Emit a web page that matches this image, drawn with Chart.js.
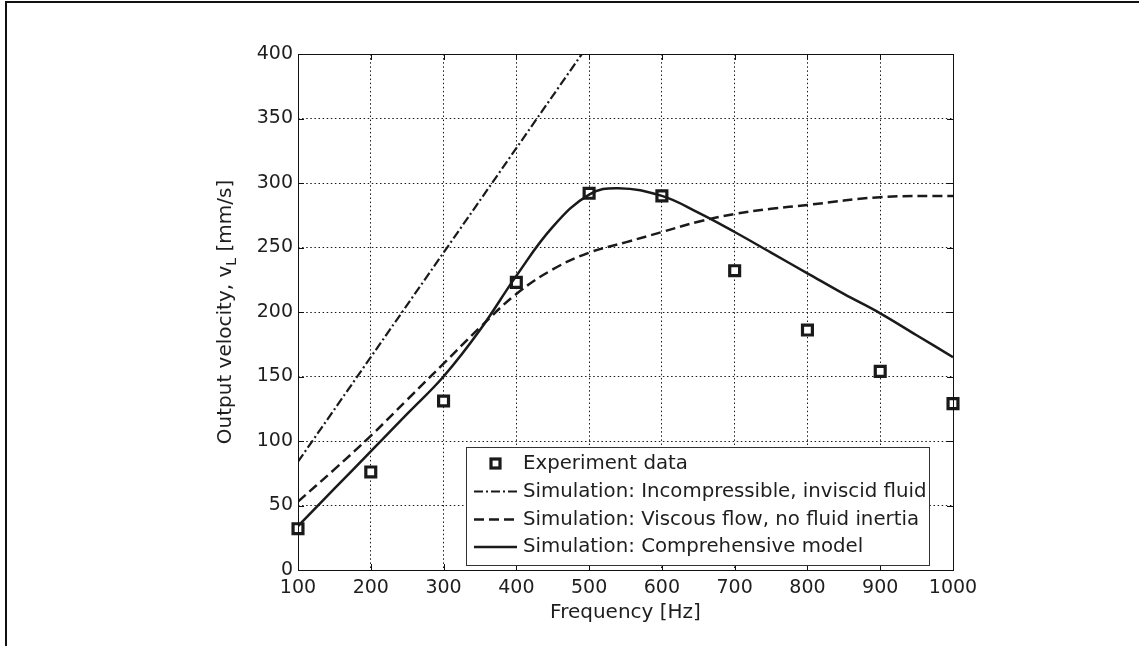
<!DOCTYPE html>
<html lang="en">
<head>
<meta charset="UTF-8" />
<title>Output velocity vs frequency</title>
<script src="https://cdn.jsdelivr.net/npm/chart.js@4.4.1/dist/chart.umd.min.js"></script>
<style>
    html, body { margin: 0; padding: 0; background: #fff; }
    #chart { display: block; }
</style>
</head>
<body>
<canvas id="chart" width="1139" height="646"></canvas>
<script>
    // values
    const expFreq = [100, 200, 300, 400, 500, 600, 700, 800, 900, 1000];
    const expVel  = [32, 76, 131, 223, 292, 290, 232, 186, 154, 129];

    const inviscidFreq = [100, 200, 300, 400, 490];
    const inviscidVel  = [84, 165, 246, 327, 400];

    const viscousFreq = [100, 150, 200, 250, 300, 350, 400, 450, 500, 550, 600, 650, 700, 750, 800, 900, 1000];
    const viscousVel  = [53, 78, 104, 132, 160, 188, 214, 233, 246, 254, 262, 270, 276, 280, 283, 289, 290];

    const fullFreq = [100, 150, 200, 250, 300, 350, 400, 450, 500, 540, 600, 650, 700, 750, 800, 850, 900, 950, 1000];
    const fullVel  = [34, 63, 92, 121, 150, 186, 228, 266, 291, 296, 290, 277, 262, 246, 230, 214, 199, 182, 165];

    const xTicks = [100, 200, 300, 400, 500, 600, 700, 800, 900, 1000];
    const yTicks = [0, 50, 100, 150, 200, 250, 300, 350, 400];

    const FONT = '"DejaVu Sans", "Liberation Sans", sans-serif';
    const INK = '#1e1e1e';

    const pts = (xs, ys) => xs.map((x, i) => ({ x, y: ys[i] }));

    Chart.defaults.font.family = FONT;
    Chart.defaults.font.size = 19;
    Chart.defaults.color = INK;

    // frame, axes box, inner ticks, y title and legend
    const paperPlugin = {
        id: 'paper',
        beforeDraw(chart) {
            const ctx = chart.ctx;
            ctx.save();
            ctx.fillStyle = '#fff';
            ctx.fillRect(0, 0, chart.width, chart.height);
            ctx.strokeStyle = '#111';
            ctx.lineWidth = 2;
            ctx.beginPath();
            ctx.moveTo(6, chart.height);
            ctx.lineTo(6, 2);
            ctx.lineTo(chart.width, 2);
            ctx.stroke();
            ctx.restore();
        },
        afterDraw(chart) {
            const ctx = chart.ctx;
            const a = chart.chartArea;
            const xs = chart.scales.x, ys = chart.scales.y;
            ctx.save();

            // axes box
            ctx.strokeStyle = '#111';
            ctx.lineWidth = 1;
            ctx.setLineDash([]);
            ctx.strokeRect(a.left + 0.5, a.top + 0.5, a.right - a.left, a.bottom - a.top);

            // inner ticks on all four sides
            ctx.beginPath();
            xTicks.forEach(v => {
                const px = Math.round(xs.getPixelForValue(v)) + 0.5;
                ctx.moveTo(px, a.bottom); ctx.lineTo(px, a.bottom - 6);
                ctx.moveTo(px, a.top); ctx.lineTo(px, a.top + 6);
            });
            yTicks.forEach(v => {
                const py = Math.round(ys.getPixelForValue(v)) + 0.5;
                ctx.moveTo(a.left, py); ctx.lineTo(a.left + 6, py);
                ctx.moveTo(a.right, py); ctx.lineTo(a.right - 6, py);
            });
            ctx.stroke();

            // y axis title with subscript
            ctx.translate(226, (a.top + a.bottom) / 2);
            ctx.rotate(-Math.PI / 2);
            ctx.fillStyle = INK;
            ctx.textBaseline = 'middle';
            const big = '20px ' + FONT, small = '14px ' + FONT;
            const parts = [['Output velocity, v', big, 0], ['L', small, 6], [' [mm/s]', big, 0]];
            let total = 0;
            parts.forEach(p => { ctx.font = p[1]; total += ctx.measureText(p[0]).width; });
            let tx = -total / 2;
            parts.forEach(p => {
                ctx.font = p[1];
                ctx.fillText(p[0], tx, p[2]);
                tx += ctx.measureText(p[0]).width;
            });
            ctx.setTransform(1, 0, 0, 1, 0, 0);

            // legend
            const box = { left: 466, top: 447, right: 929, bottom: 565 };
            ctx.fillStyle = '#fff';
            ctx.fillRect(box.left, box.top, box.right - box.left, box.bottom - box.top);
            ctx.strokeStyle = '#333';
            ctx.lineWidth = 1;
            ctx.strokeRect(box.left + 0.5, box.top + 0.5, box.right - box.left, box.bottom - box.top);

            const order = [3, 0, 1, 2];
            const rows = [463.5, 491.5, 519.5, 547];
            ctx.font = '19.75px ' + FONT;
            ctx.textBaseline = 'middle';
            order.forEach((di, r) => {
                const ds = chart.data.datasets[di];
                const y = rows[r];
                if (ds.showLine === false) {
                    ctx.setLineDash([]);
                    ctx.lineWidth = ds.borderWidth;
                    ctx.strokeStyle = ds.borderColor;
                    ctx.fillStyle = '#fff';
                    ctx.fillRect(491, y - 4.5, 9, 9);
                    ctx.strokeRect(491, y - 4.5, 9, 9);
                } else {
                    ctx.setLineDash(ds.borderDash || []);
                    ctx.lineWidth = ds.borderWidth;
                    ctx.strokeStyle = ds.borderColor;
                    ctx.beginPath();
                    ctx.moveTo(474, y);
                    ctx.lineTo(517, y);
                    ctx.stroke();
                }
                ctx.setLineDash([]);
                ctx.fillStyle = INK;
                ctx.fillText(ds.label, 523, y);
            });
            ctx.restore();
        }
    };

    const gridOpts = {
        color: '#1a1a1a',
        lineWidth: 1,
        drawTicks: false
    };

    new Chart(document.getElementById('chart').getContext('2d'), {
        type: 'line',
        data: {
            datasets: [
                { label: 'Simulation: Incompressible, inviscid fluid', data: pts(inviscidFreq, inviscidVel),
                  borderColor: '#1a1a1a', borderWidth: 2.2, borderDash: [9, 3, 2, 3], pointRadius: 0, fill: false, tension: 0 },
                { label: 'Simulation: Viscous flow, no fluid inertia', data: pts(viscousFreq, viscousVel),
                  borderColor: '#1a1a1a', borderWidth: 2.5, borderDash: [10, 5], pointRadius: 0, fill: false, tension: 0.4 },
                { label: 'Simulation: Comprehensive model', data: pts(fullFreq, fullVel),
                  borderColor: '#1a1a1a', borderWidth: 2.5, pointRadius: 0, fill: false, tension: 0.4 },
                { label: 'Experiment data', data: pts(expFreq, expVel), showLine: false,
                  pointStyle: 'rect', pointRadius: 7, borderWidth: 3.2, borderColor: '#1a1a1a',
                  backgroundColor: '#fff', clip: false }
            ]
        },
        options: {
            responsive: false,
            animation: false,
            layout: { padding: { top: 54, right: 186, left: 0, bottom: 0 } },
            plugins: { legend: { display: false }, tooltip: { enabled: false } },
            scales: {
                x: {
                    type: 'linear', min: 100, max: 1000,
                    afterBuildTicks: s => { s.ticks = xTicks.map(v => ({ value: v })); },
                    afterFit: s => { s.height = 76; },
                    grid: gridOpts,
                    border: { display: false, dash: [1.5, 2.6] },
                    ticks: { padding: 7, maxRotation: 0, autoSkip: false, callback: v => String(v) },
                    title: { display: true, text: 'Frequency [Hz]', font: { size: 20 }, padding: { top: 0, bottom: 21 } }
                },
                y: {
                    type: 'linear', min: 0, max: 400,
                    afterBuildTicks: s => { s.ticks = yTicks.map(v => ({ value: v })); },
                    afterFit: s => { s.width = 298; },
                    grid: gridOpts,
                    border: { display: false, dash: [1.5, 2.6] },
                    ticks: { padding: 5, autoSkip: false, callback: v => String(v) }
                }
            }
        },
        plugins: [paperPlugin]
    });
</script>
</body>
</html>
